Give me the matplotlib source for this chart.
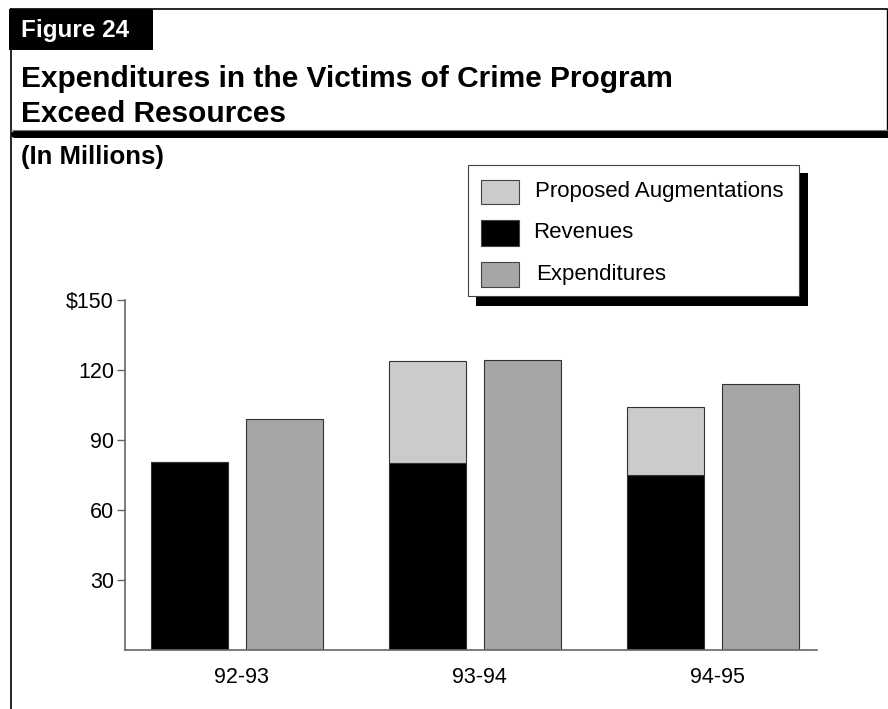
import matplotlib
matplotlib.use("Agg")
import matplotlib.pyplot as plt
from matplotlib.patches import Rectangle
from matplotlib.lines import Line2D
from matplotlib.transforms import ScaledTranslation

plt.rcParams["font.family"] = ["Liberation Sans", "DejaVu Sans"]

# -----------------------------
# Data (millions of dollars)
# -----------------------------
years = ["92-93", "93-94", "94-95"]
revenues = [80.5, 80, 75]
augmentations = [0, 44, 29]
expenditures = [99, 124.5, 114]
y_ticks = [30, 60, 90, 120, 150]
y_tick_labels = ["30", "60", "90", "120", "$150"]

W, H = 888, 709
fig = plt.figure(figsize=(W / 100, H / 100), dpi=100)


def fx(px):
    return px / W


def fy(py):
    return 1 - py / H


# -----------------------------
# Header frame
# -----------------------------
fig.add_artist(Line2D([fx(11), fx(11)], [fy(9), fy(709)], color="black", lw=1.2))
fig.add_artist(Line2D([fx(11), fx(887)], [fy(9), fy(9)], color="black", lw=1.2))
fig.add_artist(Line2D([fx(887), fx(887)], [fy(9), fy(131)], color="black", lw=1.0))
fig.add_artist(Line2D([fx(11), fx(887)], [fy(130), fy(130)], color="#777777", lw=0.8))
fig.add_artist(Line2D([fx(14), fx(888)], [fy(133.5), fy(133.5)], color="black", lw=5.0,
                      solid_capstyle="round"))

fig.add_artist(Rectangle((fx(9), fy(50)), fx(144), 41 / H, facecolor="black",
                         edgecolor="none"))
fig.text(fx(21), fy(37), "Figure 24", color="white", fontsize=17.5, fontweight="bold",
         va="baseline", ha="left")

fig.text(fx(21), fy(87), "Expenditures in the Victims of Crime Program",
         fontsize=21.5, fontweight="bold", va="baseline", ha="left")
fig.text(fx(21), fy(122), "Exceed Resources",
         fontsize=21.5, fontweight="bold", va="baseline", ha="left")
fig.text(fx(21), fy(164), "(In Millions)", fontsize=18.5, fontweight="bold",
         va="baseline", ha="left")

# -----------------------------
# Bars
# -----------------------------
ax = fig.add_axes([fx(125), fy(650), (817 - 125) / W, 350 / H])
x = list(range(len(years)))
bw = 0.3256
off = 0.2004
edge = "#333333"

rev_x = [i - off for i in x]
exp_x = [i + off for i in x]
ax.bar(rev_x, revenues, width=bw, color="black", edgecolor=edge, linewidth=0.8)
ax.bar(rev_x, augmentations, width=bw, bottom=revenues, color="#cbcbcb",
       edgecolor=edge, linewidth=0.8)
ax.bar(exp_x, expenditures, width=bw, color="#a6a6a6", edgecolor=edge, linewidth=0.8)

ax.set_xlim(-0.4706, 2.437)
ax.set_ylim(0, 150)
ax.set_yticks(y_ticks)
ax.set_yticklabels(y_tick_labels)
ax.set_xticks(x)
ax.set_xticklabels(years)

for s in ["top", "right"]:
    ax.spines[s].set_visible(False)
for s in ["left", "bottom"]:
    ax.spines[s].set_color("#666666")
    ax.spines[s].set_linewidth(1.2)

ax.tick_params(axis="y", length=6, width=1.0, color="#666666", pad=2, labelsize=15.5)
ax.tick_params(axis="x", length=0, pad=12, labelsize=15.5)
for lab in ax.get_xticklabels():
    lab.set_transform(lab.get_transform() + ScaledTranslation(0.045, 0, fig.dpi_scale_trans))

# -----------------------------
# Legend with drop shadow
# -----------------------------
fig.add_artist(Rectangle((fx(476), fy(306)), (808 - 476) / W, (306 - 173) / H,
                         facecolor="black", edgecolor="none"))
fig.add_artist(Rectangle((fx(468), fy(296)), (799 - 468) / W, (296 - 165) / H,
                         facecolor="white", edgecolor="#444444", linewidth=0.8))

legend_items = [("Proposed Augmentations", "#cbcbcb", 180, 204, 535),
                ("Revenues", "black", 220, 246, 533),
                ("Expenditures", "#a6a6a6", 262, 287, 536)]
for label, col, top, bot, tx in legend_items:
    fig.add_artist(Rectangle((fx(481), fy(bot)), 38 / W, (bot - top) / H,
                             facecolor=col, edgecolor="#444444", linewidth=0.8))
    fig.text(fx(tx), fy((top + bot) / 2), label, fontsize=16, va="center", ha="left")

fig.savefig("out.png", dpi=100)
